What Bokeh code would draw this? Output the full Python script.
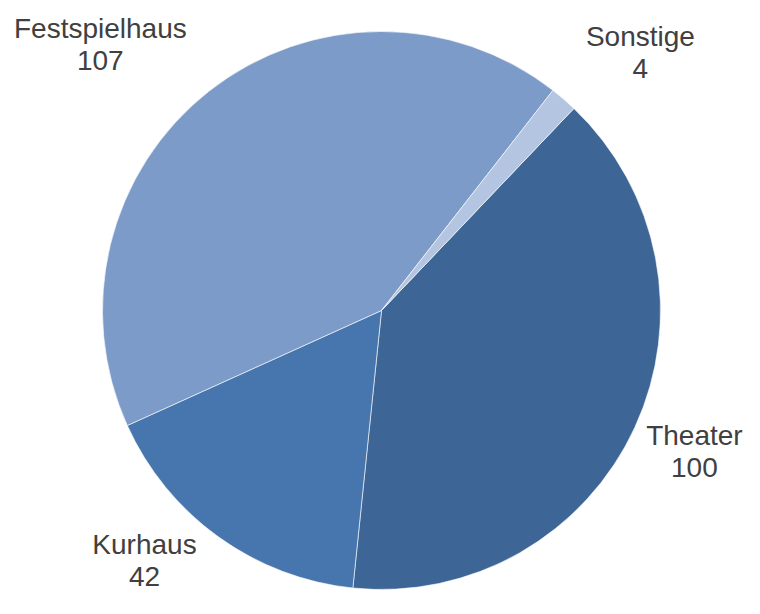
import math
from bokeh.plotting import figure
from bokeh.models import Range1d, ColumnDataSource
from bokeh.core.properties import value
from bokeh.embed import file_html
from bokeh.resources import INLINE

# ---- data ----
labels = ["Theater", "Kurhaus", "Festspielhaus", "Sonstige"]
counts = [100, 42, 107, 4]
colors = ["#3d6596", "#4676ad", "#7c9bc8", "#b3c5e1"]

# ---- layout ----
W, H = 744, 598
cx, cy = 381, 288          # pie centre (pixels in plot space, y up)
R = 279                    # pie radius
start_theta = 43.6         # degrees clockwise from 12 o'clock where first slice begins
# label block placement (clockwise-from-top angle, distance as multiple of R)
label_theta = [114.25, 223.47, 313.4, 45.1]
label_dist = [1.230, 1.2347, 1.387, 1.310]

total = float(sum(counts))
starts, ends = [], []
t = start_theta
for c in counts:
    sweep = c / total * 360.0
    starts.append(math.radians(90 - t))
    ends.append(math.radians(90 - (t + sweep)))
    t += sweep

src = ColumnDataSource(dict(start=starts, end=ends, color=colors))

p = figure(width=W, height=H, x_range=Range1d(0, W), y_range=Range1d(0, H),
           output_backend="svg", toolbar_location=None, min_border=0)
p.axis.visible = False
p.grid.visible = False
p.outline_line_color = None
p.background_fill_color = "white"

p.wedge(x=cx, y=cy, radius=R, start_angle="start", end_angle="end",
        direction="clock", fill_color="color", line_color="white",
        line_width=1, line_alpha=0.6, source=src)

lx, ly_name, ly_val = [], [], []
for th, d in zip(label_theta, label_dist):
    a = math.radians(th)
    bx = cx + d * R * math.sin(a)
    by = cy + d * R * math.cos(a)
    lx.append(bx)
    ly_name.append(by + 16)
    ly_val.append(by - 16)

lsrc = ColumnDataSource(dict(x=lx, yn=ly_name, yv=ly_val, name=labels,
                             val=[str(c) for c in counts]))
common = dict(text_align="center", text_baseline="alphabetic",
              text_font=value("Liberation Sans"), text_font_size="28px",
              text_color="#404040", source=lsrc)
p.text(x="x", y="yn", text="name", **common)
p.text(x="x", y="yv", text="val", **common)

open("out.html", "w").write(file_html(p, INLINE))
